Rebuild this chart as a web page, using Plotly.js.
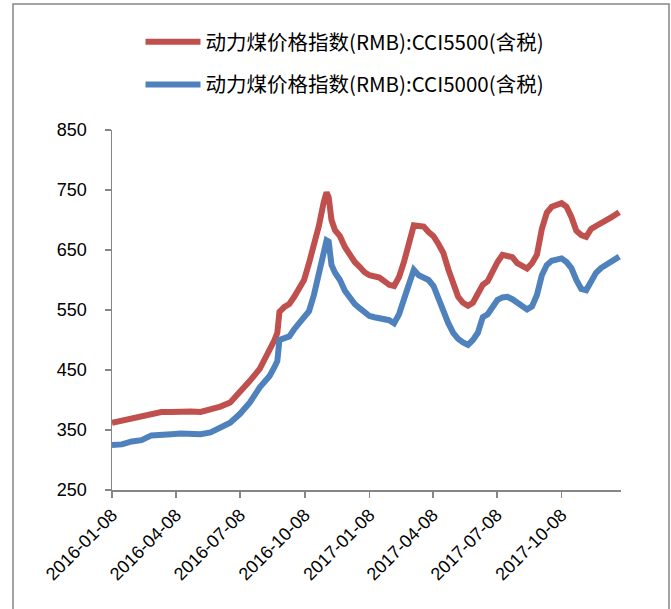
<!DOCTYPE html>
<html>
<head>
<meta charset="utf-8">
<script src="https://cdn.plot.ly/plotly-3.0.1.min.js"></script>
<style>
html,body{margin:0;padding:0;background:#fff;}
#chart{width:671px;height:609px;}
</style>
</head>
<body>
<div id="chart"></div>
<script>
const dates = [
"2016-01-08","2016-01-22","2016-02-05","2016-02-19","2016-03-04","2016-03-18","2016-04-01","2016-04-15","2016-04-29","2016-05-13",
"2016-05-27","2016-06-10","2016-06-24","2016-07-08","2016-07-22","2016-08-05","2016-08-19","2016-08-26","2016-08-30","2016-09-02",
"2016-09-09","2016-09-16","2016-09-23","2016-09-30","2016-10-07","2016-10-14","2016-10-21","2016-10-28","2016-11-04","2016-11-08",
"2016-11-11","2016-11-15","2016-11-20","2016-11-27","2016-12-04","2016-12-11","2016-12-18","2016-12-25","2017-01-01","2017-01-08",
"2017-01-15","2017-01-22","2017-01-29","2017-02-05","2017-02-12","2017-02-19","2017-02-26","2017-03-05","2017-03-12","2017-03-19",
"2017-03-26","2017-04-02","2017-04-09","2017-04-16","2017-04-23","2017-04-30","2017-05-07","2017-05-14","2017-05-21","2017-05-28",
"2017-06-04","2017-06-11","2017-06-18","2017-06-25","2017-07-02","2017-07-09","2017-07-16","2017-07-23","2017-07-30","2017-08-06",
"2017-08-13","2017-08-20","2017-08-27","2017-09-03","2017-09-10","2017-09-17","2017-09-24","2017-10-01","2017-10-08","2017-10-15",
"2017-10-22","2017-10-29","2017-11-05","2017-11-12","2017-11-19","2017-11-26","2017-12-03","2017-12-10","2017-12-17","2017-12-24",
"2017-12-29"
];
const cci5500 = [
362,366,370,372,378,380,380,381,381,380,
384,389,396,413,432,452,482,500,512,547,
555,560,572,584,600,628,655,690,730,746,
738,700,683,673,655,640,630,622,613,608,
605,604,598,592,590,605,630,660,691,690,
689,680,673,660,645,618,598,572,562,557,
562,578,592,598,615,630,642,640,638,628,
622,619,628,642,685,712,722,724,728,722,
705,682,675,672,685,690,694,700,704,709,
713
];
const cci5000 = [
325,326,331,333,341,343,343,344,344,343,
346,353,362,377,396,421,440,455,465,500,
504,506,518,527,538,548,575,610,652,666,
664,625,612,600,582,570,560,553,545,540,
538,537,536,533,528,543,568,595,617,608,
604,600,590,568,545,528,512,502,496,492,
500,512,538,543,555,567,571,572,568,563,
556,551,556,575,608,625,632,634,636,630,
620,600,585,583,598,612,620,625,630,635,
639
];
const tickDates = ["2016-01-08","2016-04-08","2016-07-08","2016-10-08","2017-01-08","2017-04-08","2017-07-08","2017-10-08"];
const tickLabels = ["2016-01-08","2016-04-08","2016-07-08","2016-10-08","2017-01-08","2017-04-08","2017-07-08","2017-10-08"];
const seriesNames = ["动力煤价格指数(RMB):CCI5500(含税)","动力煤价格指数(RMB):CCI5000(含税)"];
const yTicks = [250,350,450,550,650,750,850];

const traces = [
  {x: dates, y: cci5500, name: seriesNames[0], type: "scatter", mode: "lines",
   line: {color: "#C0504D", width: 6}, legendgroup: "a"},
  {x: dates, y: cci5000, name: seriesNames[1], type: "scatter", mode: "lines",
   line: {color: "#4F81BD", width: 6}, legendgroup: "b"}
];

const layout = {
  width: 671, height: 609,
  margin: {l: 112, r: 50, t: 130, b: 119},
  paper_bgcolor: "#ffffff", plot_bgcolor: "#ffffff",
  font: {family: "Liberation Sans, Arial, sans-serif", size: 18, color: "#000"},
  showlegend: true,
  legend: {
    x: 0.056, xanchor: "left", y: 1.30, yanchor: "top",
    orientation: "v", tracegroupgap: 13, itemwidth: 55,
    font: {family: "Noto Sans CJK SC, sans-serif", size: 20.5, color: "#000"},
    bgcolor: "rgba(0,0,0,0)"
  },
  xaxis: {
    type: "date",
    range: ["2016-01-08", "2017-12-31 12:00"],
    tickmode: "array", tickvals: tickDates, ticktext: tickLabels,
    tickangle: -45, ticks: "outside", ticklen: 6, tickcolor: "#868686", tickwidth: 1.5,
    showline: true, linecolor: "#868686", linewidth: 1.5,
    showgrid: false, zeroline: false,
    tickfont: {size: 18}
  },
  yaxis: {
    range: [250, 850],
    tickmode: "array", tickvals: yTicks,
    ticks: "outside", ticklen: 6, tickcolor: "#868686", tickwidth: 1.5,
    showline: true, linecolor: "#868686", linewidth: 1.5,
    showgrid: false, zeroline: false,
    ticklabelstandoff: 14,
    tickfont: {size: 18}
  },
  shapes: [
    {type: "rect", xref: "paper", yref: "paper",
     x0: (13 - 112) / 509, x1: (669 - 112) / 509,
     y0: (490 - 620) / 360, y1: (490 - 4) / 360,
     line: {color: "#868686", width: 1.5}, fillcolor: "rgba(0,0,0,0)"}
  ]
};

Plotly.newPlot("chart", traces, layout, {displayModeBar: false, staticPlot: true});
</script>
</body>
</html>
